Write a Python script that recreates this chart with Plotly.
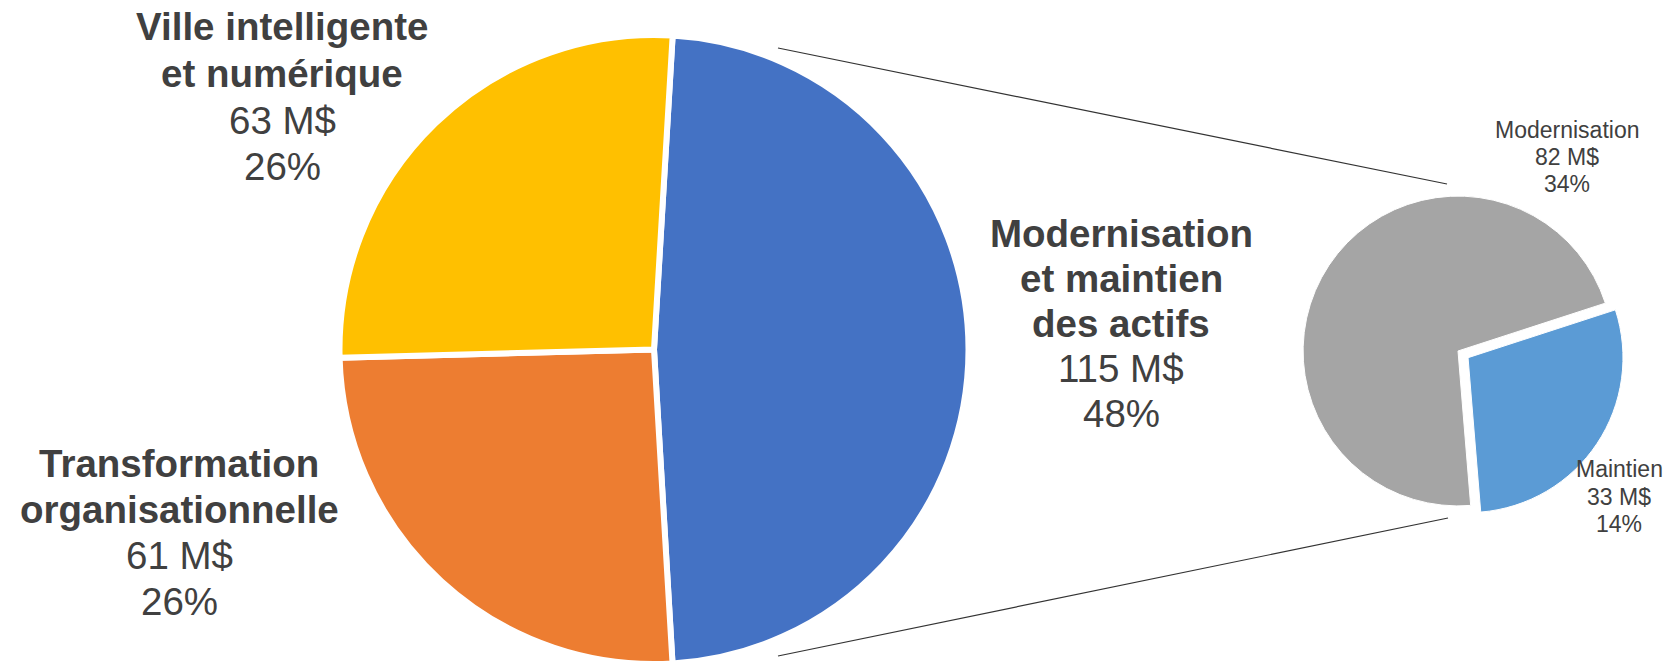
import plotly.graph_objects as go

# ---------------- data ----------------
main_labels = ["Modernisation et maintien des actifs", "Transformation organisationnelle", "Ville intelligente et numérique"]
main_label_lines = [["Modernisation", "et maintien", "des actifs"],
                    ["Transformation", "organisationnelle"],
                    ["Ville intelligente", "et numérique"]]
main_values = [115, 61, 63]          # M$
main_pcts = [48, 26, 26]             # %

sub_labels = ["Maintien", "Modernisation"]
sub_values = [33, 82]                # M$
sub_pcts = [14, 34]                  # %

main_colors = ["#4472C4", "#ED7D31", "#FFC000"]
sub_colors = ["#5B9BD5", "#A5A5A5"]

W, H = 1667, 664
FONT = "Liberation Sans, Arial, sans-serif"
TXT = "#404040"

fig = go.Figure()

# main pie
fig.add_trace(go.Pie(
    labels=main_labels, values=main_values, sort=False, direction="clockwise",
    rotation=3.4, textinfo="none", hoverinfo="label+value",
    marker=dict(colors=main_colors, line=dict(color="white", width=6)),
    domain=dict(x=[339.5 / W, 968.5 / W], y=[0, 629 / H]),
    showlegend=False,
))

# secondary pie
fig.add_trace(go.Pie(
    labels=sub_labels, values=sub_values, sort=False, direction="clockwise",
    rotation=72, textinfo="none", hoverinfo="label+value",
    pull=[0.078, 0],
    marker=dict(colors=sub_colors, line=dict(color="white", width=1)),
    domain=dict(x=[1291 / W, 1625 / W], y=[146 / H, 480 / H]),
    showlegend=False,
))

# connector lines
for (x0, y0, x1, y1) in [(778, 48, 1447, 184), (778, 656, 1448, 518)]:
    fig.add_shape(type="line", xref="paper", yref="paper",
                  x0=x0 / W, y0=1 - y0 / H, x1=x1 / W, y1=1 - y1 / H,
                  line=dict(color="#333333", width=1.2))


def add_block(lines, bold_n, xc, first_base, spacing, fs):
    for i, t in enumerate(lines):
        base = first_base + i * spacing
        yc = base - 0.3465 * fs
        txt = f"<b>{t}</b>" if i < bold_n else t
        fig.add_annotation(text=txt, xref="paper", yref="paper",
                           x=xc / W, y=1 - yc / H, xanchor="center", yanchor="middle",
                           showarrow=False, font=dict(family=FONT, size=fs, color=TXT))


# main labels: (x centre, first baseline, spacing)
main_pos = [(1121, 247, 45), (179, 477, 46), (282, 40, 46.7)]
for k in range(len(main_labels)):
    lines = main_label_lines[k] + [f"{main_values[k]} M$", f"{main_pcts[k]}%"]
    xc, fb, sp = main_pos[k]
    add_block(lines, len(main_label_lines[k]), xc, fb, sp, 38.5)

# secondary labels
sub_pos = [(1619, 477, 27.5), (1567, 138, 27)]
for k in range(len(sub_labels)):
    lines = [sub_labels[k], f"{sub_values[k]} M$", f"{sub_pcts[k]}%"]
    xc, fb, sp = sub_pos[k]
    add_block(lines, 0, xc, fb, sp, 23)

fig.update_layout(
    width=W, height=H,
    margin=dict(l=0, r=0, t=0, b=0),
    paper_bgcolor="white", plot_bgcolor="white",
    showlegend=False,
)

fig.write_html(
    "out.html",
    config={"displayModeBar": False},
    post_script="document.body.style.margin='0';document.body.style.overflow='hidden';",
)
